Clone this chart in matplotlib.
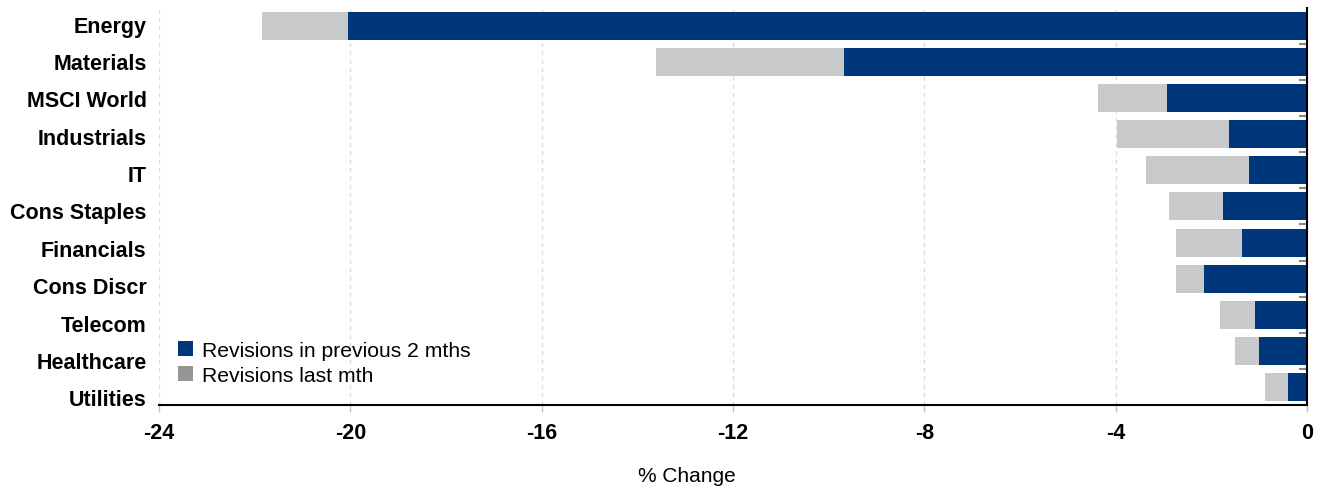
import matplotlib
matplotlib.use("Agg")
import matplotlib.pyplot as plt
from matplotlib.patches import Patch
import numpy as np

plt.rcParams['font.family'] = ['Liberation Sans', 'DejaVu Sans']

categories = ["Energy", "Materials", "MSCI World", "Industrials", "IT", "Cons Staples",
              "Financials", "Cons Discr", "Telecom", "Healthcare", "Utilities"]
prev_2m = [-20.05, -9.68, -2.93, -1.63, -1.21, -1.76, -1.36, -2.15, -1.09, -1.00, -0.40]
total_last = [-21.85, -13.61, -4.37, -3.97, -3.37, -2.89, -2.74, -2.74, -1.82, -1.51, -0.88]
last_mth = [t - p for t, p in zip(total_last, prev_2m)]
xticks = [-24, -20, -16, -12, -8, -4, 0]

BLUE = "#00377A"
GRAY = "#C8C9CB"

fig = plt.figure(figsize=(13.2, 4.89), dpi=100)
ax = fig.add_axes([0.1205, 0.170, 0.8695, 0.8115])

y = np.arange(len(categories))
ax.barh(y, prev_2m, height=0.775, color=BLUE, zorder=3)
ax.barh(y, last_mth, left=prev_2m, height=0.775, color=GRAY, zorder=3)

ax.set_xlim(-24, 0)
ax.set_ylim(len(categories) - 0.5, -0.5)
ax.set_xticks(xticks)
ax.set_xticklabels([str(v) for v in xticks], fontsize=15.5, fontweight='bold')
ax.tick_params(axis='x', which='major', length=5, width=1, color='#c0c0c0', pad=7)

ax.xaxis.grid(True, linestyle=(0, (3, 3)), color='#dcdcdc', linewidth=1, zorder=0)
ax.set_axisbelow(True)

# category labels (slightly wider spacing than bars, as in the original)
lab = ax.twinx()
lab.set_ylim(10.20, -0.414)
lab.yaxis.tick_left()
lab.set_yticks(y)
lab.set_yticklabels(categories, fontsize=15.5, fontweight='bold')
lab.tick_params(axis='y', length=0, pad=9)
for s in lab.spines.values():
    s.set_visible(False)

# row separators as short ticks on the right edge
ax.set_yticks(y)
ax.set_yticklabels([])
ax.set_yticks(np.arange(len(categories) - 1) + 0.5, minor=True)
ax.tick_params(axis='y', which='major', left=False, right=False, length=0)
ax.tick_params(axis='y', which='minor', left=False, right=True, direction='in',
               length=6, width=1.5, color='#8a8a8a')

for s in ['top', 'left']:
    ax.spines[s].set_visible(False)
for s in ['right', 'bottom']:
    ax.spines[s].set_color('black')
    ax.spines[s].set_linewidth(1.5)
    ax.spines[s].set_zorder(5)

fig.text(687 / 1320, 1 - 477 / 489, "% Change", fontsize=15, ha='center', va='center')

handles = [Patch(facecolor=BLUE, label="Revisions in previous 2 mths"),
           Patch(facecolor="#959595", label="Revisions last mth")]
ax.legend(handles=handles, loc='lower left', bbox_to_anchor=(0.0, 0.002), frameon=False,
          fontsize=15.2, handlelength=0.7, handleheight=0.7, handletextpad=0.45,
          labelspacing=0.3, borderaxespad=0.5)

fig.savefig("out.png", dpi=100)
